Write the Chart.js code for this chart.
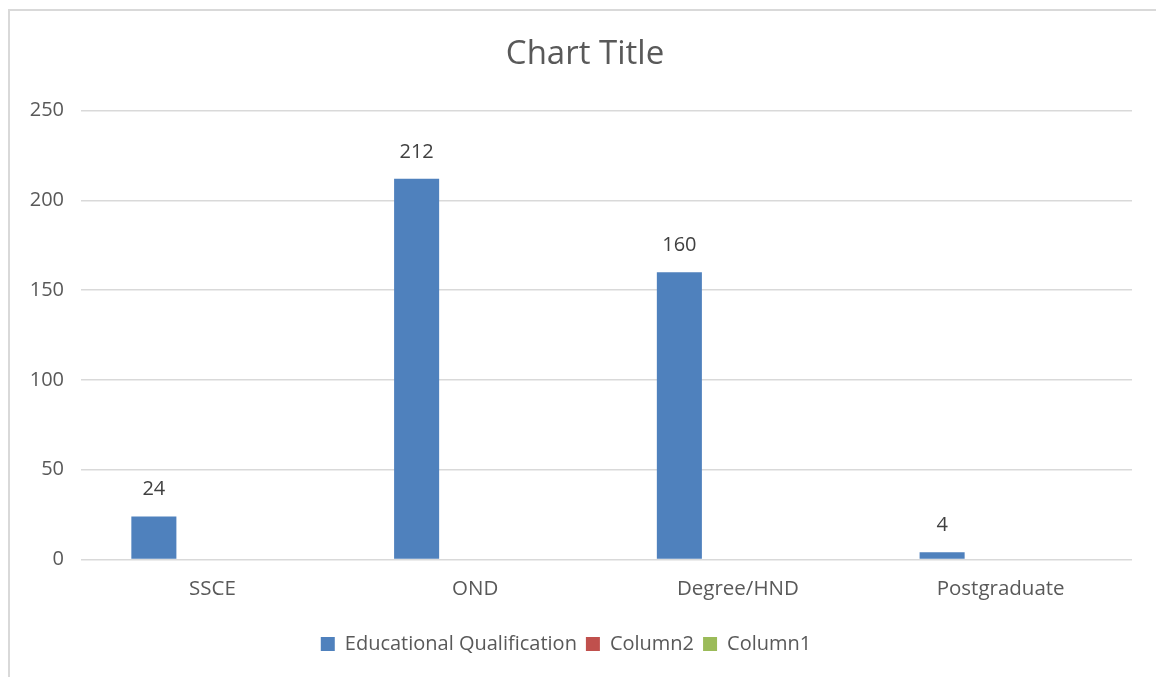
<!DOCTYPE html>
<html>
<head>
<meta charset="utf-8">
<script src="https://cdn.jsdelivr.net/npm/chart.js@4"></script>
<style>
  html, body { margin: 0; padding: 0; background: #fff; overflow: hidden; }
  #frame { position: absolute; left: 8px; top: 9px; width: 1200px; height: 700px; border: 2px solid #d9d9d9; box-sizing: border-box; }
  #chart { position: absolute; left: 0; top: 0; }
</style>
</head>
<body>
<div id="frame"></div>
<canvas id="chart" width="1156" height="677"></canvas>
<script>
const chartTitle = 'Chart Title'
const categories = ['SSCE', 'OND', 'Degree/HND', 'Postgraduate']
const educationalQualification = [24, 212, 160, 4]
const column2 = [null, null, null, null]
const column1 = [null, null, null, null]
const yTicks = [0, 50, 100, 150, 200, 250]

Chart.defaults.font.family = "'Open Sans', sans-serif"
Chart.defaults.color = '#595959'

// value labels above the bars
const barLabels = {
  id: 'barLabels',
  afterDatasetsDraw(chart) {
    const ctx = chart.ctx
    chart.data.datasets.forEach((ds, i) => {
      const meta = chart.getDatasetMeta(i)
      meta.data.forEach((bar, j) => {
        const v = ds.data[j]
        if (v == null) return
        ctx.save()
        ctx.fillStyle = '#404040'
        ctx.font = "20px 'Open Sans'"
        ctx.textAlign = 'center'
        ctx.textBaseline = 'alphabetic'
        ctx.fillText(v, bar.x, bar.y - 21)
        ctx.restore()
      })
    })
  }
}

// excel puts the title a bit right of the plot centre
const titleText = {
  id: 'titleText',
  afterDraw(chart) {
    const ctx = chart.ctx
    ctx.save()
    ctx.fillStyle = '#595959'
    ctx.font = "33px 'Open Sans'"
    ctx.textAlign = 'center'
    ctx.textBaseline = 'alphabetic'
    ctx.fillText(chartTitle, 585, 64)
    ctx.restore()
  }
}

function createChart() {
  const ctx = document.getElementById('chart')

  new Chart(ctx, {
    type: 'bar',
    data: {
      labels: categories,
      datasets: [
        { label: 'Educational Qualification', data: educationalQualification, backgroundColor: '#4f81bd' },
        { label: 'Column2', data: column2, backgroundColor: '#c0504d' },
        { label: 'Column1', data: column1, backgroundColor: '#9bbb59' }
      ]
    },
    options: {
      responsive: false,
      animation: false,
      categoryPercentage: 0.668,
      barPercentage: 0.77,
      layout: { padding: { left: 0, right: 24, top: 110.6, bottom: 13 } },
      plugins: {
        title: { display: false },
        legend: {
          position: 'bottom',
          labels: {
            boxWidth: 14,
            boxHeight: 14,
            padding: 9,
            color: '#595959',
            font: { size: 20 }
          }
        },
        tooltip: { enabled: false }
      },
      scales: {
        x: {
          grid: { display: false, drawTicks: false },
          border: { display: false },
          ticks: { padding: 17, color: '#595959', font: { size: 20.5 } },
          afterFit: (s) => { s.height = 65.5 }
        },
        y: {
          min: 0,
          max: 250,
          afterBuildTicks: (s) => { s.ticks = yTicks.map(v => ({ value: v })) },
          grid: { color: '#d9d9d9', lineWidth: 1.5, drawTicks: false },
          border: { display: false },
          ticks: { padding: 17, color: '#595959', font: { size: 20 } },
          afterFit: (s) => { s.width = 81 }
        }
      }
    },
    plugins: [barLabels, titleText]
  })
}

document.addEventListener('DOMContentLoaded', () => createChart())
</script>
</body>
</html>
